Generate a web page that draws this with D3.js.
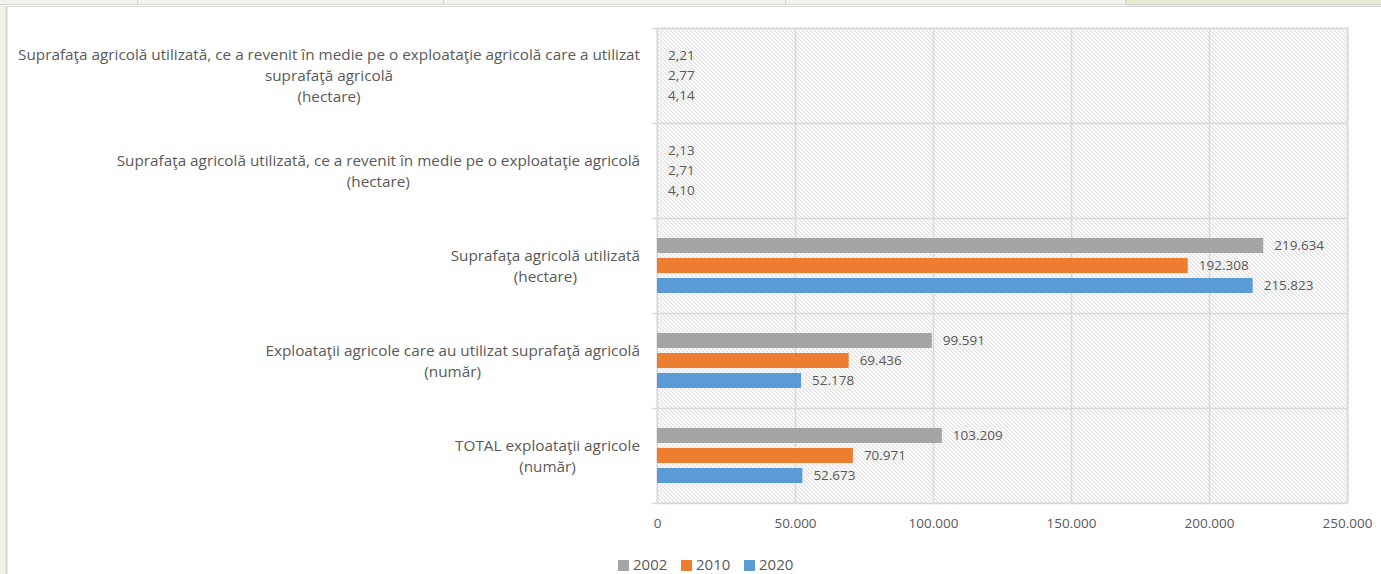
<!DOCTYPE html>
<html>
<head>
<meta charset="utf-8">
<script src="https://cdn.jsdelivr.net/npm/d3@7"></script>
<style>
  body { margin: 0; background: #fff; }
  text { font-family: "Open Sans", "Liberation Sans", Arial, sans-serif; fill: #595959; }
</style>
</head>
<body>
<div id="chart"></div>
<script>
// categories, top to bottom
var categories = [
  ["Suprafaţa agricolă utilizată, ce a revenit în medie pe o exploataţie agricolă care a utilizat", "suprafaţă agricolă", "(hectare)"],
  ["Suprafaţa agricolă utilizată, ce a revenit în medie pe o exploataţie agricolă", "(hectare)"],
  ["Suprafaţa agricolă utilizată", "(hectare)"],
  ["Exploataţii agricole care au utilizat suprafaţă agricolă", "(număr)"],
  ["TOTAL exploataţii agricole", "(număr)"]
];
var years = ["2002", "2010", "2020"];
var values2002 = [2.21, 2.13, 219634, 99591, 103209];
var values2010 = [2.77, 2.71, 192308, 69436, 70971];
var values2020 = [4.14, 4.10, 215823, 52178, 52673];
var xTicks = [0, 50000, 100000, 150000, 200000, 250000];
var colors = ["#a5a5a5", "#ed7d31", "#5b9bd5"];

var series = [values2002, values2010, values2020];

var W = 1381, H = 574;
var plot = {left: 657, right: 1348, top: 28, bottom: 503};

var ro = d3.formatLocale({decimal: ",", thousands: ".", grouping: [3], currency: ["", ""]});
var fmtBig = ro.format(",d"), fmtSmall = ro.format(",.2f");
function fmt(v) { return v < 100 ? fmtSmall(v) : fmtBig(v); }

var svg = d3.select("#chart").append("svg")
    .attr("width", W)
    .attr("height", H);

// window frame around the chart (spreadsheet surroundings)
svg.append("rect").attr("x", 0).attr("y", 0).attr("width", W).attr("height", 5).attr("fill", "#f3f3ef");
svg.append("rect").attr("x", 1126).attr("y", 0).attr("width", W - 1126).attr("height", 6).attr("fill", "#e5ebd0");
[137, 443, 785, 1125].forEach(function(x) {
  svg.append("line").attr("x1", x + 0.5).attr("x2", x + 0.5).attr("y1", 0).attr("y2", 4)
    .attr("stroke", "#d0d0d0");
});
svg.append("rect").attr("x", 0).attr("y", 5).attr("width", 6).attr("height", H).attr("fill", "#eef3e4");
svg.append("line").attr("x1", 0).attr("x2", W).attr("y1", 4.5).attr("y2", 4.5).attr("stroke", "#d6d6d6");
svg.append("line").attr("x1", 7).attr("x2", W).attr("y1", 6.5).attr("y2", 6.5).attr("stroke", "#dadada");
svg.append("line").attr("x1", 6.5).attr("x2", 6.5).attr("y1", 6).attr("y2", H).attr("stroke", "#d4d4d4").attr("stroke-width", 2);

// hatched plot background
var defs = svg.append("defs");
var pat = defs.append("pattern")
    .attr("id", "hatch")
    .attr("patternUnits", "userSpaceOnUse")
    .attr("width", 4).attr("height", 4);
pat.append("rect").attr("width", 4).attr("height", 4).attr("fill", "#ffffff");
pat.append("path")
    .attr("d", "M-1,-1 L5,5 M-1,3 L1,5 M3,-1 L5,1")
    .attr("stroke", "#dedede")
    .attr("stroke-width", 1.1);

var x = d3.scaleLinear()
    .domain([0, 250000])
    .range([plot.left, plot.right - 1]);

var y = d3.scaleBand()
    .domain(d3.range(categories.length))
    .range([plot.top, plot.bottom])
    .paddingInner(0);

var ySub = d3.scaleBand()
    .domain(years)
    .range([-30, 30])
    .paddingInner(0.25)
    .paddingOuter(0.125);

svg.append("rect")
    .attr("x", plot.left).attr("y", plot.top)
    .attr("width", plot.right - plot.left).attr("height", plot.bottom - plot.top)
    .attr("fill", "url(#hatch)")
    .attr("stroke", "#d9d9d9");

// vertical gridlines
svg.append("g")
    .selectAll("line")
    .data(xTicks)
  .enter().append("line")
    .attr("x1", function(d) { return Math.round(x(d)) + 0.5; })
    .attr("x2", function(d) { return Math.round(x(d)) + 0.5; })
    .attr("y1", plot.top)
    .attr("y2", plot.bottom)
    .attr("stroke", "#d9d9d9")
    .attr("stroke-width", 1.5);

// horizontal category separators (with small ticks to the left)
svg.append("g")
    .selectAll("line")
    .data(d3.range(categories.length + 1))
  .enter().append("line")
    .attr("x1", plot.left - 5)
    .attr("x2", plot.right)
    .attr("y1", function(i) { return Math.round(plot.top + i * y.step()) + 0.5; })
    .attr("y2", function(i) { return Math.round(plot.top + i * y.step()) + 0.5; })
    .attr("stroke", "#d9d9d9")
    .attr("stroke-width", 1.5);

// x axis labels
var xAxis = svg.append("g")
    .attr("transform", "translate(0," + (plot.bottom + 8) + ")")
    .style("font-family", "Open Sans, Liberation Sans, Arial, sans-serif")
    .style("font-size", "13.5px")
    .call(d3.axisBottom(x).tickValues(xTicks).tickFormat(fmtBig).tickSize(0).tickPadding(7));
xAxis.select(".domain").remove();
xAxis.selectAll("text").attr("fill", "#595959");

// bars
series.forEach(function(vals, s) {
  var g = svg.append("g");
  g.selectAll("rect")
      .data(vals)
    .enter().append("rect")
      .attr("x", x(0))
      .attr("y", function(d, i) { return y(i) + y.bandwidth() / 2 + ySub(years[s]); })
      .attr("width", function(d) { return x(d) - x(0); })
      .attr("height", ySub.bandwidth())
      .attr("fill", colors[s]);
  g.selectAll("text")
      .data(vals)
    .enter().append("text")
      .attr("x", function(d) { return x(d) + 11; })
      .attr("y", function(d, i) { return y(i) + y.bandwidth() / 2 + ySub(years[s]) + ySub.bandwidth() / 2; })
      .attr("dy", "0.36em")
      .style("font-size", "13.5px")
      .text(fmt);
});

// category labels: centred lines, block right-aligned to the axis
var catG = svg.append("g");
categories.forEach(function(lines, i) {
  var tmp = catG.append("g");
  var texts = tmp.selectAll("text")
      .data(lines)
    .enter().append("text")
      .attr("text-anchor", "middle")
      .style("font-size", "15.3px")
      .text(function(d) { return d; });
  var maxW = d3.max(texts.nodes(), function(n) { return n.getComputedTextLength(); });
  var cx = 640 - maxW / 2;
  var lh = 21;
  var cy = y(i) + y.bandwidth() / 2;
  texts.attr("x", cx)
      .attr("y", function(d, j) { return cy + (j - (lines.length - 1) / 2) * lh; })
      .attr("dy", "0.36em");
});

// legend (sits at the very bottom edge, as in the screenshot)
var legend = svg.append("g").attr("transform", "translate(618,565)");
var item = legend.selectAll("g")
    .data(years)
  .enter().append("g")
    .attr("transform", function(d, i) { return "translate(" + (i * 63) + ",0)"; });
item.append("rect")
    .attr("x", 0).attr("y", -5)
    .attr("width", 11).attr("height", 11)
    .attr("fill", function(d, i) { return colors[i]; });
item.append("text")
    .attr("x", 15)
    .attr("dy", "0.36em")
    .style("font-size", "15px")
    .text(function(d) { return d; });
</script>
</body>
</html>
